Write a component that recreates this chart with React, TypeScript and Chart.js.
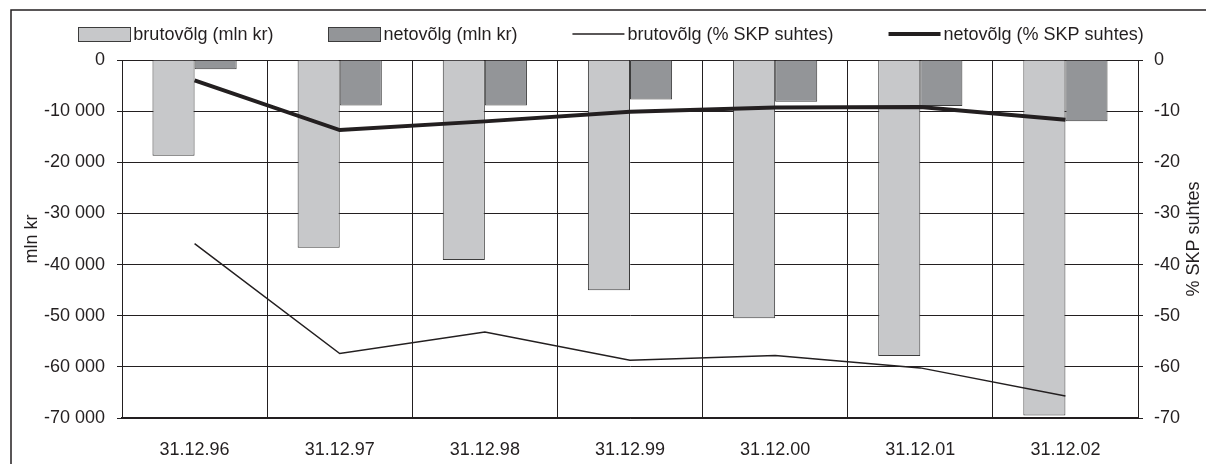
import React, { useEffect, useRef } from 'react';
import { Chart, registerables } from 'chart.js';

Chart.register(...registerables);

const categories = ['31.12.96', '31.12.97', '31.12.98', '31.12.99', '31.12.00', '31.12.01', '31.12.02'];
const brutoMln = [-18700, -36700, -39100, -45000, -50500, -57900, -69500];
const netoMln = [-1800, -8900, -8900, -7700, -8150, -9000, -12000];
const brutoPct = [-35.9, -57.4, -53.2, -58.7, -57.8, -60.2, -65.7];
const netoPct = [-4.0, -13.7, -12.0, -10.1, -9.3, -9.2, -11.7];

const seriesLabels = [
  'brutovõlg (mln kr)',
  'netovõlg (mln kr)',
  'brutovõlg (% SKP suhtes)',
  'netovõlg (% SKP suhtes)',
];
const leftTitle = 'mln kr';
const rightTitle = '% SKP suhtes';

const FONT = '"Liberation Sans", Arial, sans-serif';
const INK = '#231f20';
const LIGHT = '#c7c8ca';
const DARK = '#939598';
const EDGE = '#3c3c3c';

function fmtThousands(v: number): string {
  const s = Math.abs(Math.round(v)).toString().replace(/\B(?=(\d{3})+(?!\d))/g, ' ');
  return (v < 0 ? '-' : '') + s;
}

const framePlugin = {
  id: 'frame',
  beforeDraw(chart: any) {
    const ctx = chart.ctx;
    ctx.save();
    ctx.strokeStyle = INK;
    ctx.lineWidth = 1.5;
    ctx.strokeRect(11, 10, chart.width + 20, chart.height + 20);
    ctx.restore();
  },
};

const legendPlugin = {
  id: 'customLegend',
  afterDraw(chart: any) {
    const ctx = chart.ctx;
    ctx.save();
    ctx.font = `18px ${FONT}`;
    ctx.textBaseline = 'middle';
    const y = 34;
    const swatchW = 52;
    const swatchH = 14;
    const textGap = 3;
    const itemGap = 55;
    const items = chart.data.datasets.map((ds: any) => ({
      ds,
      tw: ctx.measureText(ds.label).width,
    }));
    const total =
      items.reduce((a: number, it: any) => a + swatchW + textGap + it.tw, 0) + itemGap * (items.length - 1);
    let x = 611 - total / 2;
    for (const it of items) {
      const ds = it.ds;
      if (ds.type === 'line') {
        ctx.strokeStyle = ds.borderColor;
        ctx.lineWidth = ds.borderWidth;
        ctx.beginPath();
        ctx.moveTo(x, y);
        ctx.lineTo(x + swatchW, y);
        ctx.stroke();
      } else {
        ctx.fillStyle = ds.backgroundColor;
        ctx.fillRect(x, y - swatchH / 2, swatchW, swatchH);
        ctx.strokeStyle = ds.borderColor;
        ctx.lineWidth = 1;
        ctx.strokeRect(Math.round(x) + 0.5, Math.round(y - swatchH / 2) + 0.5, swatchW, swatchH);
      }
      ctx.fillStyle = INK;
      ctx.textAlign = 'left';
      ctx.fillText(ds.label, x + swatchW + textGap, y + 1);
      x += swatchW + textGap + it.tw + itemGap;
    }
    ctx.restore();
  },
};

const rightTitlePlugin = {
  id: 'rightTitle',
  afterDraw(chart: any) {
    const ctx = chart.ctx;
    const area = chart.chartArea;
    ctx.save();
    ctx.font = `18px ${FONT}`;
    ctx.fillStyle = INK;
    ctx.textAlign = 'center';
    ctx.textBaseline = 'middle';
    ctx.translate(1194, (area.top + area.bottom) / 2);
    ctx.rotate(-Math.PI / 2);
    ctx.fillText(rightTitle, 0, 0);
    ctx.restore();
  },
};

export default function App() {
  const canvasRef = useRef<HTMLCanvasElement | null>(null);

  useEffect(() => {
    const canvas = canvasRef.current;
    if (!canvas) return;
    const chart = new Chart(canvas, {
      data: {
        labels: categories,
        datasets: [
          {
            type: 'bar',
            label: seriesLabels[0],
            data: brutoMln,
            backgroundColor: LIGHT,
            borderColor: EDGE,
            borderWidth: 1,
            yAxisID: 'y',
            order: 2,
            categoryPercentage: 0.58,
            barPercentage: 1,
          },
          {
            type: 'bar',
            label: seriesLabels[1],
            data: netoMln,
            backgroundColor: DARK,
            borderColor: EDGE,
            borderWidth: 1,
            yAxisID: 'y',
            order: 2,
            categoryPercentage: 0.58,
            barPercentage: 1,
          },
          {
            type: 'line',
            label: seriesLabels[2],
            data: brutoPct,
            borderColor: INK,
            backgroundColor: INK,
            borderWidth: 1.5,
            pointRadius: 0,
            tension: 0,
            yAxisID: 'y1',
            order: 0,
          },
          {
            type: 'line',
            label: seriesLabels[3],
            data: netoPct,
            borderColor: INK,
            backgroundColor: INK,
            borderWidth: 4,
            pointRadius: 0,
            tension: 0,
            yAxisID: 'y1',
            order: 0,
          },
        ] as any,
      },
      options: {
        animation: false,
        responsive: true,
        maintainAspectRatio: false,
        layout: { padding: { top: 60, left: 12, right: 0, bottom: 0 } },
        plugins: {
          legend: { display: false },
          tooltip: { enabled: false },
          title: { display: false },
        },
        scales: {
          x: {
            type: 'category',
            offset: true,
            grid: { offset: true, color: INK, lineWidth: 1, drawTicks: false },
            border: { display: true, color: INK, width: 1.5 },
            ticks: { color: INK, font: { family: FONT, size: 18 }, padding: 21, maxRotation: 0 },
            afterFit: (s: any) => {
              s.height = 46;
            },
          },
          y: {
            type: 'linear',
            position: 'left',
            min: -70000,
            max: 0,
            grid: { color: INK, lineWidth: 1, tickLength: 5 },
            border: { display: true, color: INK, width: 1 },
            ticks: {
              stepSize: 10000,
              color: INK,
              font: { family: FONT, size: 18 },
              padding: 12,
              callback: (v: any) => fmtThousands(Number(v)),
            },
            title: {
              display: true,
              text: leftTitle,
              color: INK,
              font: { family: FONT, size: 18 },
              padding: { top: 9, bottom: 0 },
            },
            afterFit: (s: any) => {
              s.width = 110;
            },
          },
          y1: {
            type: 'linear',
            position: 'right',
            min: -70,
            max: 0,
            grid: { drawOnChartArea: false, color: INK, lineWidth: 1, tickLength: 5 },
            border: { display: true, color: INK, width: 1 },
            ticks: {
              stepSize: 10,
              color: INK,
              font: { family: FONT, size: 18 },
              padding: 11,
            },
            afterFit: (s: any) => {
              s.width = 68;
            },
          },
        },
      } as any,
      plugins: [framePlugin, legendPlugin, rightTitlePlugin],
    });
    return () => chart.destroy();
  }, []);

  return (
    <div style={{ position: 'absolute', left: 0, top: 0, width: 1206, height: 464, background: '#fff' }}>
      <canvas ref={canvasRef} />
    </div>
  );
}
